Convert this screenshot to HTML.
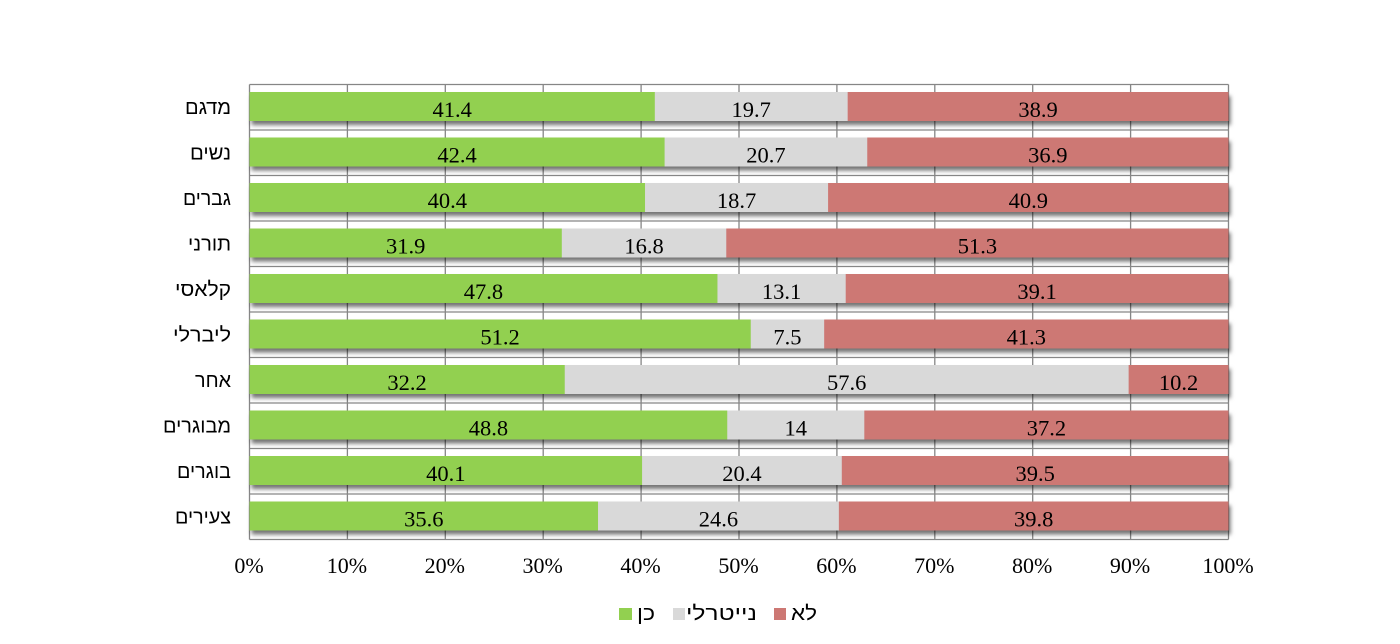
<!DOCTYPE html>
<html><head><meta charset="utf-8"><style>
html,body{margin:0;padding:0;background:#fff;}
svg{display:block;}
.cat{font-family:"Liberation Sans","DejaVu Sans",sans-serif;font-size:20px;fill:#000;}
.val{font-family:"Liberation Serif","DejaVu Serif",serif;font-size:22.5px;fill:#000;}
.ax{font-family:"Liberation Serif","DejaVu Serif",serif;font-size:22px;fill:#000;}
</style></head><body>
<svg width="1400" height="644" viewBox="0 0 1400 644" xmlns="http://www.w3.org/2000/svg">
<defs>
<filter id="sh" x="-5%" y="-50%" width="110%" height="200%">
<feDropShadow dx="2" dy="4" stdDeviation="2.2" flood-color="#000" flood-opacity="0.55"/>
</filter>
</defs>
<rect width="1400" height="644" fill="#fff"/>
<g id="grid" stroke="#868686" stroke-width="1.3" fill="none"></g>
<g id="bars"></g>
<g id="labels"></g>
<g id="axis"></g>
<!-- legend -->
<rect x="619" y="608" width="13" height="12" fill="#92D050"/>
<text class="cat" x="655" y="620" text-anchor="end" textLength="18" lengthAdjust="spacingAndGlyphs">כן</text>
<rect x="673" y="608" width="12" height="12" fill="#D9D9D9"/>
<text class="cat" x="757" y="620" text-anchor="end" textLength="71" lengthAdjust="spacingAndGlyphs">נייטרלי</text>
<rect x="774" y="608" width="12" height="12" fill="#CD7874"/>
<text class="cat" x="817" y="620" text-anchor="end" textLength="26" lengthAdjust="spacingAndGlyphs">לא</text>
</svg>
<script>
(function(){
var NS="http://www.w3.org/2000/svg";
function el(n,a,p,t){var e=document.createElementNS(NS,n);for(var k in a)e.setAttribute(k,a[k]);if(t!==undefined)e.textContent=t;p.appendChild(e);return e;}
var data=[
["מדגם",41.4,19.7,38.9,46],
["נשים",42.4,20.7,36.9,41],
["גברים",40.4,18.7,40.9,48],
["תורני",31.9,16.8,51.3,43],
["קלאסי",47.8,13.1,39.1,56],
["ליברלי",51.2,7.5,41.3,58],
["אחר",32.2,57.6,10.2,36],
["מבוגרים",48.8,14,37.2,68],
["בוגרים",40.1,20.4,39.5,54],
["צעירים",35.6,24.6,39.8,56]];
var x0=249.5,sc=9.79,top=84.5,rh=45.5,bh=29;
var g=document.getElementById("grid"),b=document.getElementById("bars"),l=document.getElementById("labels"),ax=document.getElementById("axis");
for(var i=0;i<=10;i++){
  var x=x0+i*sc*10;
  el("line",{x1:x,y1:top,x2:x,y2:top+rh*10},g);
  var y=top+i*rh;
  el("line",{x1:x0,y1:y,x2:x0+sc*100,y2:y},g);
  el("text",{"class":"ax",x:x-0.5,y:573,"text-anchor":"middle"},ax,(i*10)+"%");
}
var cols=["#92D050","#D9D9D9","#CD7874"];
data.forEach(function(d,i){
  var bt=top+i*rh+7.5;
  el("rect",{x:x0,y:bt,width:sc*100,height:bh,fill:"#CD7874",filter:"url(#sh)"},b);
  var cx=x0;
  for(var k=0;k<3;k++){
    var w=d[k+1]*sc;
    el("rect",{x:cx,y:bt,width:w+(k<2?0.4:0),height:bh,fill:cols[k]},b);
    el("text",{"class":"val",x:cx+w/2,y:bt+25,"text-anchor":"middle"},l,String(d[k+1]));
    cx+=w;
  }
  el("text",{"class":"cat",x:231,y:bt+21.8,"text-anchor":"end",textLength:d[4],lengthAdjust:"spacingAndGlyphs"},l,d[0]);
});
})();
</script>
</body></html>
